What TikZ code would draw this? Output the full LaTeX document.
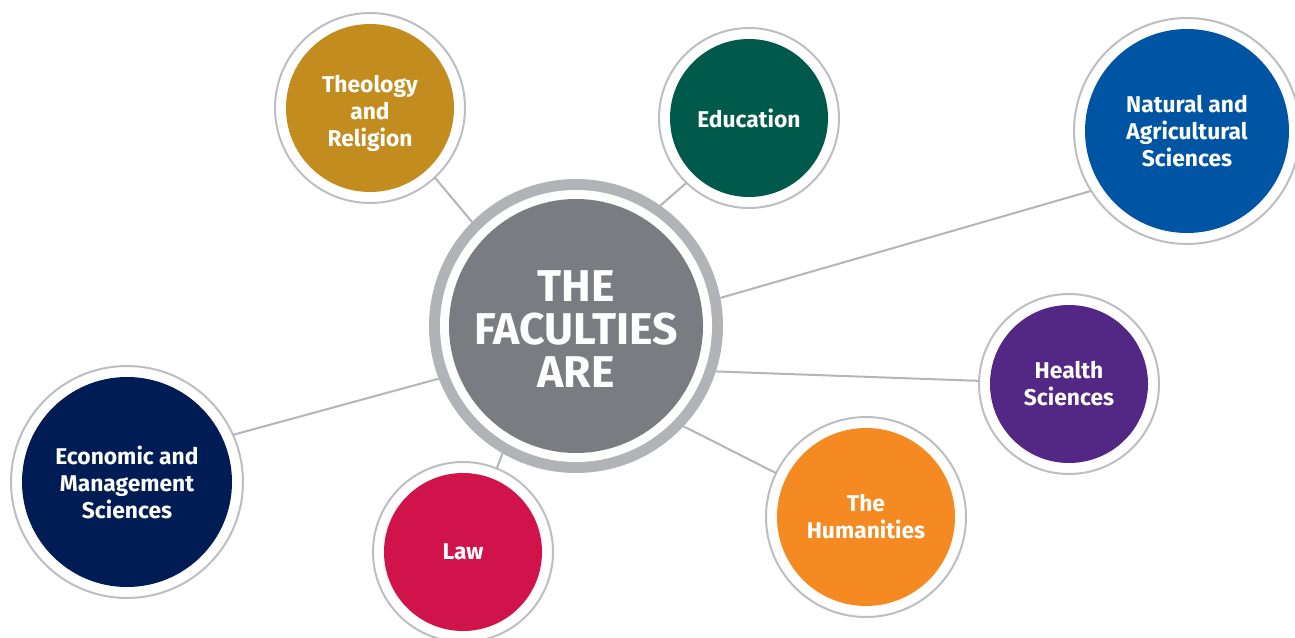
\documentclass[tikz,border=0pt]{standalone}
\usepackage{fontspec}
\setmainfont{Fira Sans}
\usepackage{tikz}

\definecolor{hubring}{HTML}{B1B3B6}
\definecolor{hubgrey}{HTML}{7A7C82}
\definecolor{ringgrey}{HTML}{BCBEC1}
\definecolor{linkgrey}{HTML}{B3B5B8}
\definecolor{theocol}{HTML}{C38C1F}
\definecolor{educol}{HTML}{005A4B}
\definecolor{natcol}{HTML}{0054A4}
\definecolor{healthcol}{HTML}{532784}
\definecolor{humcol}{HTML}{F48A21}
\definecolor{lawcol}{HTML}{D0134A}
\definecolor{econcol}{HTML}{001C55}

\begin{document}
\begin{tikzpicture}[x=1pt, y=-1pt, inner sep=0pt, outer sep=0pt,
    link/.style={draw=linkgrey, line width=2pt},
    hub/.style={circle, fill=hubring, minimum size=294, text=white, align=center,
        font=\fontsize{44.5}{43}\selectfont\bfseries,
        path picture={
            \fill[white] (path picture bounding box.center) circle[radius=136];
            \fill[hubgrey] (path picture bounding box.center) circle[radius=127];}},
    faculty/.style 2 args={circle, draw=ringgrey, line width=2pt, fill=white,
        minimum size={2*#2}, text=white, align=center,
        font=\fontsize{22.8}{27}\selectfont\bfseries,
        path picture={
            \fill[#1] (path picture bounding box.center) circle[radius={#2-11}];}}]
    \useasboundingbox (0,0) rectangle (1295,637);

    % centre
    \node[hub, text height=123pt, text depth=0pt] (hub) at (576,326) {THE\\FACULTIES\\ARE};

    % faculties
    \node[faculty={theocol}{95}, text height=76pt, text depth=0pt] (theo) at (370,108) {Theology\\and\\Religion};
    \node[faculty={educol}{90}] (edu) at (749,118) {Education};
    \node[faculty={natcol}{113}] (nat) at (1187,131) {Natural and\\Agricultural\\Sciences};
    \node[faculty={healthcol}{90}] (health) at (1069,384) {Health\\Sciences};
    \node[faculty={humcol}{100}] (hum) at (866,517) {The\\Humanities};
    \node[faculty={lawcol}{90}] (law) at (463,552) {Law};
    \node[faculty={econcol}{116}] (econ) at (127,482) {Economic and\\Management\\Sciences};

    % links
    \foreach \a/\f/\b in {135/theo/313, 55/edu/226, 11/nat/212, -18/health/178,
                          -43/hum/154, 240/law/68, 201/econ/24}
        \draw[link] (hub.\a) -- (\f.\b);
\end{tikzpicture}
\end{document}
